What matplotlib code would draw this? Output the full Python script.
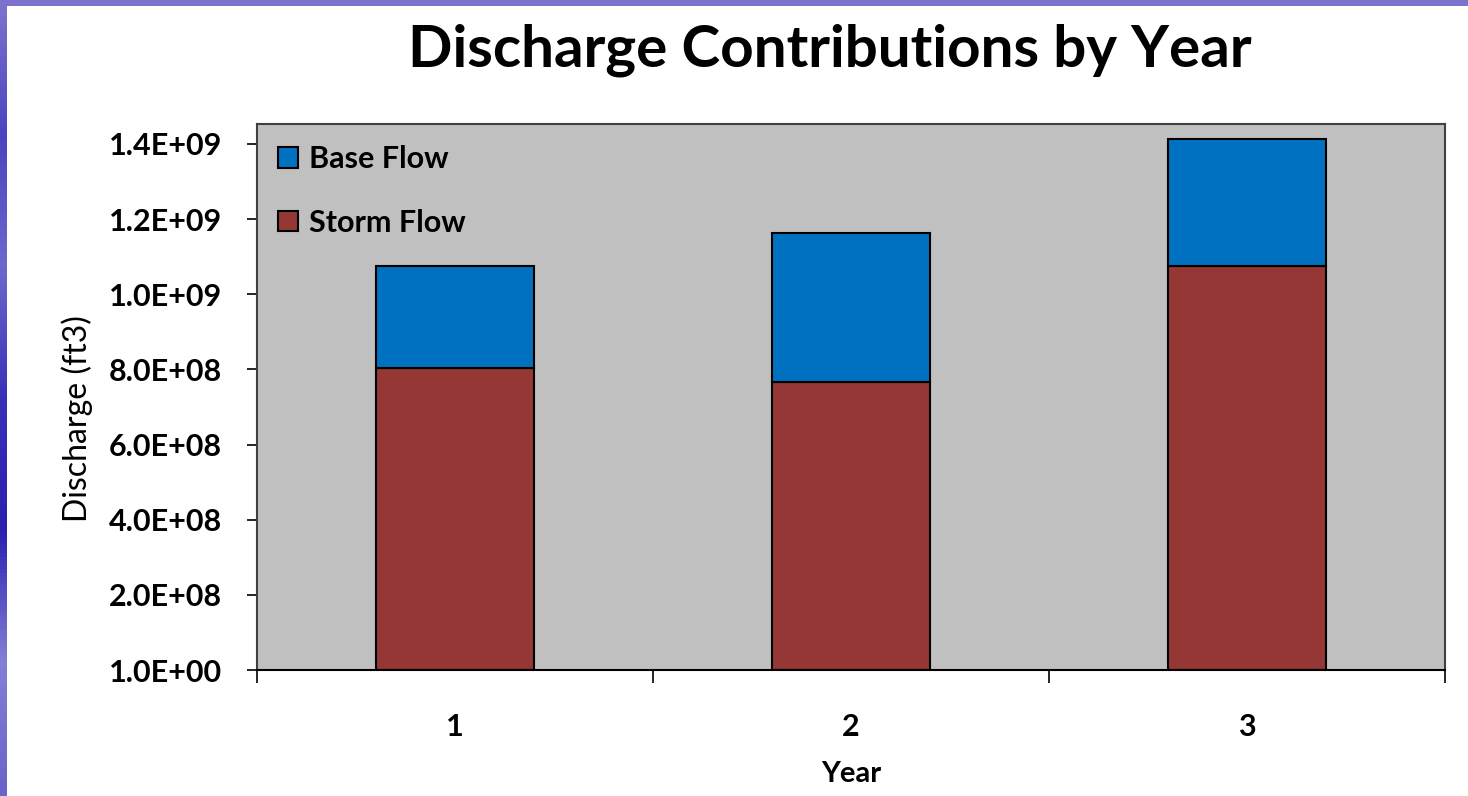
import numpy as np
import matplotlib
matplotlib.use("Agg")
import matplotlib.pyplot as plt
from matplotlib.patches import Rectangle
from matplotlib.ticker import FixedLocator

years = ["1", "2", "3"]
storm_flow = [8.05e8, 7.66e8, 1.075e9]
base_flow = [2.71e8, 3.96e8, 3.37e8]
ytick_vals = [0, 2e8, 4e8, 6e8, 8e8, 1.0e9, 1.2e9, 1.4e9]
ytick_labels = ["1.0E+00", "2.0E+08", "4.0E+08", "6.0E+08", "8.0E+08",
                "1.0E+09", "1.2E+09", "1.4E+09"]

plt.rcParams['font.family'] = ['Lato', 'DejaVu Sans']

fig = plt.figure(figsize=(14.68, 7.96), dpi=100)
fig.patch.set_facecolor('white')

# slide border: textured blue strip on the left, lavender strip on top
W, H = 1468, 796
left = fig.add_axes([0, 0, 7 / W, 1])
grad = np.linspace(0, 1, 200).reshape(-1, 1)
left.imshow(grad, aspect='auto', cmap=matplotlib.colors.LinearSegmentedColormap.from_list(
    'slide', ['#7c74cc', '#4b43c0', '#6d68cc', '#3a30b8', '#2a1fb0', '#8480d6', '#6a64c8']),
    extent=[0, 1, 0, 1])
left.axis('off')
fig.add_artist(Rectangle((0, 1 - 6 / H), 1, 6 / H, transform=fig.transFigure,
                         facecolor='#7a72cc', edgecolor='none'))

ax = fig.add_axes([257 / W, 1 - 670 / H, (1445 - 257) / W, (670 - 124) / H])
ax.set_facecolor('#c0c0c0')

x = np.arange(1, len(years) + 1)
ax.bar(x, storm_flow, width=0.4, color='#953735', edgecolor='black',
       linewidth=1.5, label='Storm Flow', zorder=2)
ax.bar(x, base_flow, width=0.4, bottom=storm_flow, color='#0070c0',
       edgecolor='black', linewidth=1.5, label='Base Flow', zorder=2)

ax.set_xlim(0.5, 3.5)
ax.set_ylim(0, 1.4532e9)

ax.set_xticks(x)
ax.set_xticklabels(years, fontsize=22, fontweight='bold')
ax.xaxis.set_minor_locator(FixedLocator([0.5, 1.5, 2.5, 3.5]))
ax.tick_params(axis='x', which='major', length=0, pad=31)
ax.tick_params(axis='x', which='minor', length=9, width=1.2, direction='out')

ax.set_yticks(ytick_vals)
ax.set_yticklabels(ytick_labels, fontsize=22, fontweight='bold')
ax.tick_params(axis='y', length=7, width=1.2, direction='out', pad=18)

for s in ['left', 'top', 'right']:
    ax.spines[s].set_color('#404040')
    ax.spines[s].set_linewidth(1.5)
ax.spines['bottom'].set_color('black')
ax.spines['bottom'].set_linewidth(1.5)

ax.set_ylabel('Discharge (ft3)', fontsize=23)
ax.yaxis.set_label_coords(-0.138, 0.46)
ax.set_xlabel('Year', fontsize=21, fontweight='bold', labelpad=14)

fig.text(830 / W, 1 - 50 / H, 'Discharge Contributions by Year',
         ha='center', va='center', fontsize=42, fontweight='bold')

handles, labels = ax.get_legend_handles_labels()
leg = ax.legend(handles[::-1], labels[::-1], loc='upper left', frameon=False,
                fontsize=22, handlelength=0.65, handleheight=0.65,
                handletextpad=0.35, labelspacing=1.15,
                bbox_to_anchor=(0.0, 1.0), borderaxespad=0.3)
for t in leg.get_texts():
    t.set_fontweight('bold')

fig.savefig('out.png', dpi=100)
